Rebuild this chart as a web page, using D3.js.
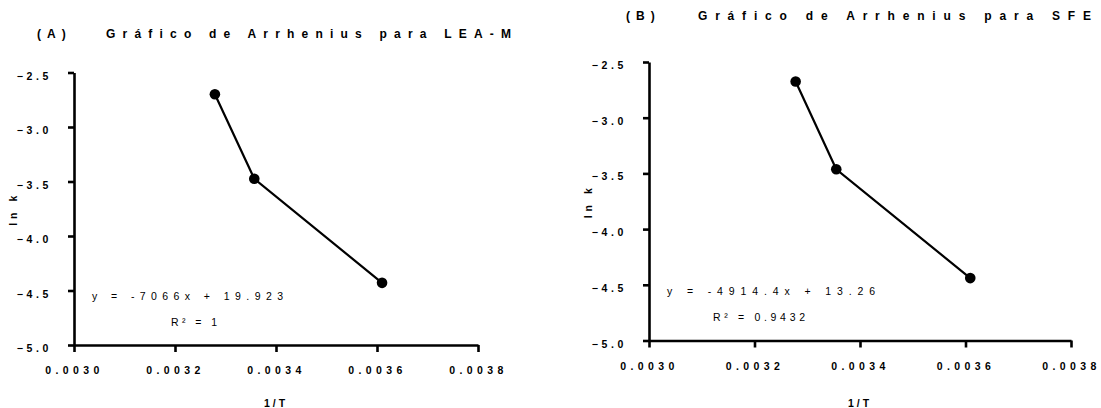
<!DOCTYPE html>
<html>
<head>
<meta charset="utf-8">
<script src="https://cdn.jsdelivr.net/npm/d3@7"></script>
<style>
  body { margin: 0; background: #fff; }
  svg { display: block; font-family: "Liberation Sans", Arial, sans-serif; }
</style>
</head>
<body>
<svg id="chart" width="1101" height="408"></svg>
<script>
// data
const xTicks = [0.0030, 0.0032, 0.0034, 0.0036, 0.0038];
const yTicks = [-5.0, -4.5, -4.0, -3.5, -3.0, -2.5];

const invT_A = [0.003279, 0.003357, 0.00361];
const lnk_A = [-2.70, -3.475, -4.43];
const invT_B = [0.003278, 0.003355, 0.003609];
const lnk_B = [-2.675, -3.463, -4.44];

const panels = [
  {
    tag: "(A)", title: "Gráfico de Arrhenius para LEA-M",
    xs: invT_A, ys: lnk_A,
    eq: "y = -7066x + 19.923", r2: "R² = 1",
    left: 74, right: 478, top: 72.5, bottom: 345,
    tagX: 37, titleX: 106, titleW: 405, titleY: 38,
    eqX: 92, eqY: 300, eqW: 191, r2X: 171, r2Y: 326, r2W: 46
  },
  {
    tag: "(B)", title: "Gráfico de Arrhenius para SFE",
    xs: invT_B, ys: lnk_B,
    eq: "y = -4914.4x + 13.26", r2: "R² = 0.9432",
    left: 649, right: 1071, top: 62, bottom: 340.5,
    tagX: 626, titleX: 698, titleW: 393, titleY: 20,
    eqX: 667, eqY: 295, eqW: 208, r2X: 713, r2Y: 321, r2W: 92
  }
];

const svg = d3.select("#chart");

panels.forEach(p => {
  const x = d3.scaleLinear().domain([0.0030, 0.0038]).range([p.left, p.right]);
  const y = d3.scaleLinear().domain([-5.0, -2.5]).range([p.bottom, p.top]);
  const g = svg.append("g");

  // titles
  g.append("text")
    .attr("x", p.tagX).attr("y", p.titleY)
    .attr("font-size", 12).attr("font-weight", "bold")
    .attr("letter-spacing", 6)
    .text(p.tag);
  g.append("text")
    .attr("x", p.titleX).attr("y", p.titleY)
    .attr("font-size", 12).attr("font-weight", "bold")
    .attr("textLength", p.titleW).attr("lengthAdjust", "spacing")
    .text(p.title);

  // axes
  const xAxis = g.append("g")
    .attr("transform", `translate(0,${p.bottom})`)
    .call(d3.axisBottom(x).tickValues(xTicks).tickSize(7).tickSizeOuter(0).tickPadding(15)
      .tickFormat(d3.format(".4f")));
  const yAxis = g.append("g")
    .attr("transform", `translate(${p.left},0)`)
    .call(d3.axisLeft(y).tickValues(yTicks).tickSize(6).tickSizeOuter(0).tickPadding(16)
      .tickFormat(d3.format(".1f")));

  [xAxis, yAxis].forEach(a => {
    a.select(".domain").attr("stroke", "#000").attr("stroke-width", 2.6);
    a.selectAll(".tick line").attr("stroke", "#000").attr("stroke-width", 2.6);
    a.selectAll(".tick text")
      .attr("fill", "#000").attr("font-size", 10.5).attr("font-weight", "bold")
      .attr("font-family", "Liberation Sans, Arial, sans-serif");
  });
  xAxis.selectAll(".tick text").attr("letter-spacing", 4.4);
  yAxis.selectAll(".tick text").attr("letter-spacing", 3.6).attr("dy", "0.62em");

  // axis titles
  g.append("text")
    .attr("x", (p.left + p.right) / 2).attr("y", 407)
    .attr("text-anchor", "middle")
    .attr("font-size", 10.5).attr("font-weight", "bold")
    .attr("letter-spacing", 3)
    .text("1/T");
  g.append("text")
    .attr("transform", `translate(${p.left - 57},${(p.top + p.bottom) / 2}) rotate(-90)`)
    .attr("text-anchor", "middle")
    .attr("font-size", 10.5).attr("font-weight", "bold")
    .attr("letter-spacing", 4)
    .text("ln k");

  // data line and points
  const pts = p.xs.map((v, i) => [v, p.ys[i]]);
  g.append("path")
    .datum(pts)
    .attr("fill", "none").attr("stroke", "#000").attr("stroke-width", 2.2)
    .attr("d", d3.line().x(d => x(d[0])).y(d => y(d[1])));
  g.selectAll("circle.pt")
    .data(pts).enter().append("circle")
    .attr("class", "pt")
    .attr("cx", d => x(d[0])).attr("cy", d => y(d[1]))
    .attr("r", 5.3).attr("fill", "#000");

  // regression text
  g.append("text")
    .attr("x", p.eqX).attr("y", p.eqY)
    .attr("font-size", 10.5)
    .attr("textLength", p.eqW).attr("lengthAdjust", "spacing")
    .text(p.eq);
  g.append("text")
    .attr("x", p.r2X).attr("y", p.r2Y)
    .attr("font-size", 10.5)
    .attr("textLength", p.r2W).attr("lengthAdjust", "spacing")
    .text(p.r2);
});
</script>
</body>
</html>
